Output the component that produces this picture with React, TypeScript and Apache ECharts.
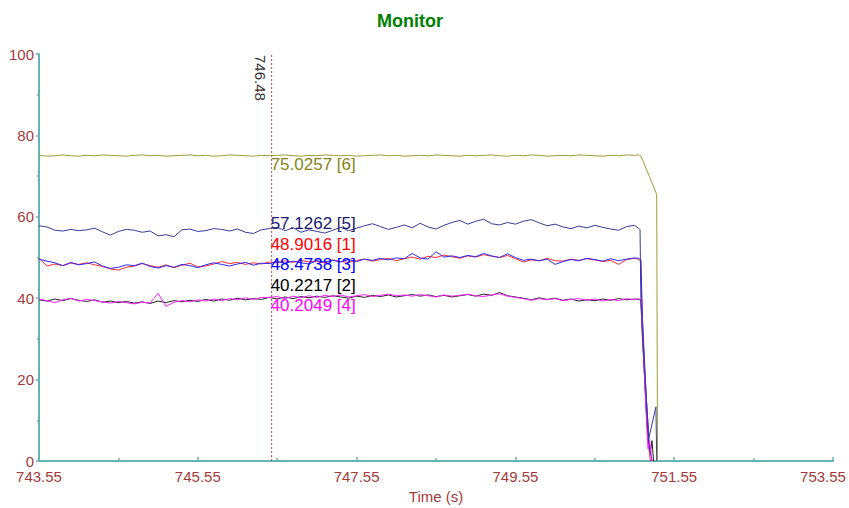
import React, { useEffect, useRef } from "react";
import * as echarts from "echarts";

const T0 = 743.55;
const CURSOR = 746.48;

const times = [
  743.55, 743.65, 743.75, 743.85, 743.95, 744.05, 744.15, 744.25, 744.35, 744.45,
  744.55, 744.65, 744.75, 744.85, 744.95, 745.05, 745.15, 745.25, 745.35, 745.45,
  745.55, 745.65, 745.75, 745.85, 745.95, 746.05, 746.15, 746.25, 746.35, 746.45,
  746.55, 746.65, 746.75, 746.85, 746.95, 747.05, 747.15, 747.25, 747.35, 747.45,
  747.55, 747.65, 747.75, 747.85, 747.95, 748.05, 748.15, 748.25, 748.35, 748.45,
  748.55, 748.65, 748.75, 748.85, 748.95, 749.05, 749.15, 749.25, 749.35, 749.45,
  749.55, 749.65, 749.75, 749.85, 749.95, 750.05, 750.15, 750.25, 750.35, 750.45,
  750.55, 750.65, 750.75, 750.85, 750.95, 751.05,
];

// [1] red
const s1 = [
  49.8, 47.9, 48.4, 48.0, 48.6, 48.3, 48.7, 48.2, 47.8, 47.2,
  46.9, 47.6, 47.9, 48.5, 48.0, 47.6, 48.2, 47.5, 48.1, 48.6,
  47.7, 47.9, 48.4, 49.0, 48.5, 48.8, 48.3, 48.7, 48.4, 48.9,
  48.7, 49.2, 48.8, 49.3, 48.9, 49.1, 48.6, 49.4, 49.0, 48.8,
  49.3, 49.6, 49.1, 49.5, 49.8, 49.2, 49.7, 50.1, 49.6, 50.3,
  50.0, 50.6, 50.2, 49.8, 50.4, 50.1, 50.7, 50.3, 50.0, 50.5,
  49.7, 48.9, 49.4, 49.2, 49.8, 49.2, 49.1, 49.6, 49.3, 49.7,
  49.4, 49.0, 49.3, 48.3, 49.5, 49.8,
];
const s1Tail = [[751.1, 49.6], [751.13, 49.0], [751.14, 40], [751.18, 20], [751.22, 5], [751.25, 0]];

// [2] black
const s2 = [
  39.6, 39.3, 39.8, 39.4, 39.9, 39.5, 39.2, 39.6, 39.0, 39.3,
  38.9, 39.2, 38.8, 39.1, 38.7, 39.3, 38.9, 39.4, 39.1, 39.5,
  39.2, 39.7, 39.3, 39.8, 39.5, 40.0, 39.6, 39.9, 39.7, 40.2,
  39.8, 40.3, 39.9, 40.4, 40.1, 40.5, 40.2, 40.6, 40.3, 40.0,
  40.5, 40.2, 40.7, 40.4, 40.8, 40.3, 40.6, 40.9, 40.5, 40.8,
  40.4, 40.7, 40.3, 40.6, 40.9, 40.5, 41.0, 40.7, 41.4, 40.6,
  40.3, 40.0, 39.6, 40.1, 39.7, 40.0, 39.5, 39.8, 39.3, 39.6,
  39.4, 39.8, 39.5, 39.9, 39.6, 39.8,
];
const s2Tail = [[751.1, 39.7], [751.13, 39.5], [751.15, 30], [751.2, 12], [751.23, 4], [751.25, 2], [751.27, 5], [751.29, 0]];

// [3] blue
const s3 = [
  49.6, 49.1, 48.7, 48.0, 48.8, 48.2, 48.5, 48.9, 47.9, 47.3,
  47.6, 48.2, 48.0, 48.6, 47.8, 47.4, 48.0, 47.6, 48.3, 48.0,
  47.5, 48.2, 48.7, 48.3, 47.9, 48.4, 48.8, 48.1, 48.6, 48.5,
  49.0, 48.6, 49.1, 48.7, 48.4, 49.2, 48.9, 49.3, 48.9, 49.5,
  49.0, 49.6, 49.3, 49.8, 49.4, 49.9, 49.7, 51.0, 49.9, 49.6,
  51.4, 50.1, 50.4, 50.0, 50.5, 50.2, 51.0, 50.4, 50.0, 50.9,
  50.0, 49.3, 49.6, 49.2, 49.6, 48.3, 49.0, 49.5, 49.2, 49.8,
  49.5, 49.1, 49.7, 49.2, 49.6, 49.9,
];
const s3Tail = [[751.1, 49.8], [751.13, 49.5], [751.15, 35], [751.2, 15], [751.24, 3], [751.27, 0]];

// [4] magenta
const s4 = [
  39.8, 39.4, 38.9, 39.6, 40.0, 39.3, 39.7, 39.4, 39.1, 38.8,
  39.2, 38.9, 38.6, 39.0, 38.8, 41.2, 38.0, 39.0, 39.4, 39.1,
  39.6, 39.3, 39.8, 39.4, 39.9, 39.6, 40.1, 39.7, 40.2, 40.2,
  40.4, 39.9, 40.5, 40.1, 40.6, 40.2, 40.7, 40.4, 40.8, 40.3,
  40.6, 40.9, 40.4, 40.7, 41.0, 40.6, 40.8, 40.5, 40.9, 40.6,
  40.3, 40.8, 40.5, 40.7, 41.0, 40.6, 40.4, 40.8, 41.1, 40.5,
  40.2, 39.9, 39.5, 39.9, 39.6, 39.9, 39.4, 39.7, 39.9, 39.5,
  39.8, 39.3, 39.7, 39.4, 39.9, 39.6,
];
const s4Tail = [[751.1, 39.9], [751.13, 39.6], [751.16, 28], [751.2, 10], [751.22, 3], [751.24, 5], [751.27, 0]];

// [5] navy
const s5 = [
  57.8, 57.5, 56.7, 56.5, 56.9, 56.6, 56.8, 57.2, 56.3, 55.5,
  56.4, 56.9, 56.7, 56.2, 56.5, 55.3, 55.6, 55.1, 56.8, 57.0,
  56.4, 56.6, 57.1, 56.9, 56.5, 57.0, 56.2, 55.9, 56.8, 57.1,
  57.4, 56.6, 57.3, 56.2, 56.8, 56.4, 56.0, 56.7, 57.4, 56.6,
  57.2, 57.8, 58.3, 57.6, 56.9, 57.4, 58.0, 57.3, 58.4, 57.5,
  57.0, 57.9, 58.6, 59.1, 58.2, 58.9, 59.4, 58.3, 58.0, 58.6,
  58.2, 58.9, 59.3, 58.5, 57.8, 58.2, 57.5, 57.1, 57.7, 57.3,
  57.9, 57.4, 57.0, 56.7, 57.6, 57.9,
];
const s5Tail = [[751.1, 57.2], [751.12, 56.8], [751.13, 40], [751.17, 25], [751.23, 5.6], [751.32, 13.3], [751.33, 0]];

// [6] olive
const s6 = [
  75.1, 74.9, 75.0, 75.2, 75.0, 74.9, 75.1, 75.0, 75.2, 75.1,
  75.0, 74.9, 75.1, 75.2, 75.0, 75.1, 74.9, 75.0, 75.1, 75.2,
  75.0, 75.1, 74.9, 75.0, 75.2, 75.1, 75.0, 74.9, 75.1, 75.0,
  75.1, 75.2, 75.0, 74.9, 75.1, 75.0, 75.2, 75.1, 75.0, 75.1,
  74.9, 75.0, 75.1, 75.2, 75.0, 75.1, 74.9, 75.0, 75.1, 75.0,
  75.2, 75.1, 75.0, 74.9, 75.1, 75.0, 75.1, 75.2, 75.0, 74.9,
  75.1, 75.0, 75.2, 75.1, 74.9, 75.0, 75.1, 75.0, 75.2, 75.1,
  75.0, 74.9, 75.1, 75.0, 75.2, 75.1,
];
const s6Tail = [[751.1, 75.2], [751.13, 75.0], [751.33, 65.5], [751.34, 0]];

const seriesIds = [1, 2, 3, 4, 5, 6];
const seriesValues = [s1, s2, s3, s4, s5, s6];
const seriesTails = [s1Tail, s2Tail, s3Tail, s4Tail, s5Tail, s6Tail];
const lineColors = ["#ff2a2a", "#222222", "#2a2aff", "#ff20ff", "#3a3a9a", "#9c9c3c"];
const labelColors = ["#ff0000", "#000000", "#0000ff", "#ff00ff", "#1a1a70", "#85851a"];
const readouts = [48.9016, 40.2217, 48.4738, 40.2049, 57.1262, 75.0257];

const xTickLabels = ["743.55", "745.55", "747.55", "749.55", "751.55", "753.55"];
const yRange = [0, 100];

const FONT = '"Liberation Sans", Arial, Helvetica, sans-serif';
const AXIS_COLOR = "#66b3b3";
const LABEL_COLOR = "#a33b3b";
const CURSOR_COLOR = "#c04848";

export default function App() {
  const ref = useRef<HTMLDivElement>(null);

  useEffect(() => {
    if (!ref.current) return;
    const chart = echarts.init(ref.current, null, { renderer: "svg" });

    const series: any[] = [
      {
        name: "cursor",
        type: "line",
        data: yRange.map((v) => [CURSOR - T0, v]),
        showSymbol: false,
        symbol: "none",
        silent: true,
        lineStyle: { color: CURSOR_COLOR, width: 1, type: [2, 2] },
        z: 1,
      },
    ];
    seriesIds.forEach((id, k) => {
      const data = times
        .map((t, i) => [t - T0, seriesValues[k][i]])
        .concat(seriesTails[k].map(([t, v]) => [t - T0, v]));
      series.push({
        name: `[${id}]`,
        type: "line",
        data,
        showSymbol: false,
        symbol: "none",
        silent: true,
        lineStyle: { color: lineColors[k], width: 1 },
        itemStyle: { color: lineColors[k] },
        z: 2 + k,
      });
    });

    const lastIdx = xTickLabels.length - 1;

    chart.setOption({
      animation: false,
      backgroundColor: "#ffffff",
      title: {
        text: "Monitor",
        left: 372,
        top: 7,
        textStyle: { color: "#008000", fontSize: 18, fontWeight: "bold", fontFamily: FONT },
      },
      grid: { left: 39, right: 16, top: 54, bottom: 47, containLabel: false, outerBoundsMode: "none" },
      xAxis: {
        type: "value",
        min: 0,
        max: 10,
        interval: 2,
        name: "Time (s)",
        nameLocation: "middle",
        nameGap: 27,
        nameTextStyle: { color: LABEL_COLOR, fontSize: 15, fontFamily: FONT },
        axisLine: { show: true, onZero: false, lineStyle: { color: AXIS_COLOR, width: 2 } },
        axisTick: { show: true, inside: true, length: 4, lineStyle: { color: AXIS_COLOR, width: 1.5 } },
        minorTick: { show: true, splitNumber: 2, length: 3, lineStyle: { color: AXIS_COLOR, width: 1.5 } },
        splitLine: { show: false },
        minorSplitLine: { show: false },
        axisLabel: {
          color: LABEL_COLOR,
          fontSize: 15,
          lineHeight: 15,
          fontFamily: FONT,
          margin: 8,
          showMinLabel: true,
          showMaxLabel: true,
          hideOverlap: false,
          formatter: (v: number) => {
            const idx = Math.round(v / 2);
            const txt = xTickLabels[idx] ?? "";
            return idx === lastIdx ? `{last|${txt}}` : txt;
          },
          rich: {
            last: {
              color: LABEL_COLOR,
              fontSize: 15,
              lineHeight: 15,
              fontFamily: FONT,
              padding: [0, 20, 0, 0],
            },
          },
        },
      },
      yAxis: {
        type: "value",
        min: 0,
        max: 100,
        interval: 20,
        axisLine: { show: true, lineStyle: { color: AXIS_COLOR, width: 2 } },
        axisTick: { show: true, inside: false, length: 3, lineStyle: { color: AXIS_COLOR, width: 1.5 } },
        minorTick: { show: true, splitNumber: 2, length: 2, lineStyle: { color: AXIS_COLOR, width: 1.5 } },
        splitLine: { show: false },
        minorSplitLine: { show: false },
        axisLabel: { color: LABEL_COLOR, fontSize: 15, lineHeight: 13, fontFamily: FONT, margin: 5 },
      },
      series,
    });

    // cursor readout texts
    const cursorTop = chart.convertToPixel({ gridIndex: 0 }, [CURSOR - T0, 100]) as number[];
    const lineH = 20.5;
    const order = readouts.map((v, k) => k).sort((a, b) => readouts[a] - readouts[b]);
    const tops: number[] = new Array(readouts.length);
    let prevTop = Infinity;
    for (const k of order) {
      const py = (chart.convertToPixel({ gridIndex: 0 }, [CURSOR - T0, readouts[k]]) as number[])[1];
      const top = Math.min(py, prevTop - lineH);
      tops[k] = top;
      prevTop = top;
    }
    const graphics: any[] = readouts.map((v, k) => ({
      type: "text",
      x: cursorTop[0] - 1,
      y: tops[k],
      z: 100,
      silent: true,
      style: {
        text: `${v.toFixed(4)} [${seriesIds[k]}]`,
        fill: labelColors[k],
        fontSize: 17,
        fontFamily: FONT,
        align: "left",
        verticalAlign: "top",
      },
    }));
    graphics.push({
      type: "text",
      x: cursorTop[0] - 4,
      y: cursorTop[1] + 1,
      rotation: -Math.PI / 2,
      z: 100,
      silent: true,
      style: {
        text: CURSOR.toFixed(2),
        fill: "#333333",
        fontSize: 15,
        fontFamily: FONT,
        align: "left",
        verticalAlign: "top",
      },
    });
    chart.setOption({ graphic: graphics });

    return () => chart.dispose();
  }, []);

  return (
    <div
      ref={ref}
      style={{ position: "fixed", left: 0, top: 0, width: 849, height: 508, background: "#fff" }}
    />
  );
}
